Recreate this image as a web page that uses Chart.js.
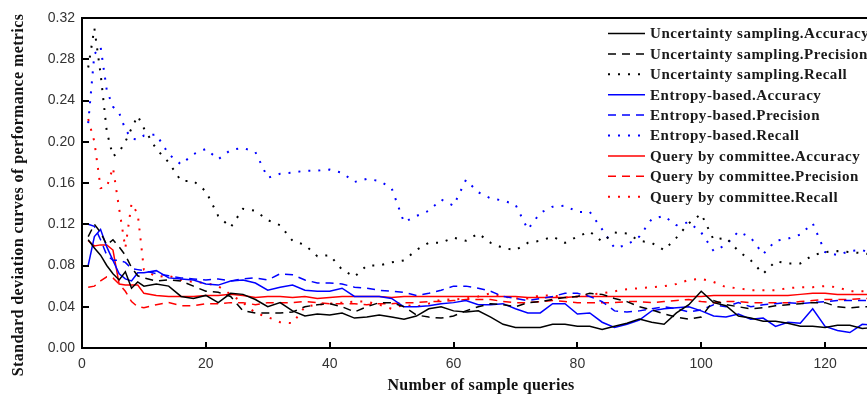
<!DOCTYPE html>
<html><head><meta charset="utf-8">
<script src="https://cdn.jsdelivr.net/npm/chart.js@4/dist/chart.umd.min.js"></script>
<style>
html,body{margin:0;padding:0;overflow:hidden;background:#fff;width:867px;height:396px}
#wrap{width:867px;height:396px;overflow:hidden;position:relative}
canvas{display:block}
</style></head>
<body><div id="wrap"><canvas id="c" width="900" height="396"></canvas></div>
<script>
const xValues = [1,2,3,4,5,6,7,8,9,10,
  12,14,16,18,20,22,24,26,28,30,
  32,34,36,38,40,42,44,46,48,50,
  52,54,56,58,60,62,64,66,68,70,
  72,74,76,78,80,82,84,86,88,90,
  92,94,96,98,100,102,104,106,108,110,
  112,114,116,118,120,122,124,126,128];

const usAccuracy = [0.105,0.097,0.090,0.080,0.072,0.066,0.074,0.058,0.064,0.060,
  0.062,0.060,0.050,0.048,0.051,0.044,0.053,0.052,0.047,0.040,
  0.044,0.036,0.031,0.033,0.032,0.034,0.029,0.030,0.032,0.030,
  0.028,0.031,0.038,0.040,0.036,0.035,0.036,0.030,0.023,0.020,
  0.020,0.020,0.023,0.023,0.021,0.021,0.018,0.021,0.024,0.028,
  0.025,0.023,0.034,0.042,0.055,0.044,0.041,0.031,0.029,0.026,
  0.026,0.024,0.021,0.021,0.020,0.022,0.022,0.019,0.020];
const usPrecision = [0.108,0.120,0.112,0.100,0.105,0.098,0.090,0.078,0.070,0.068,
  0.065,0.066,0.065,0.060,0.055,0.054,0.050,0.036,0.034,0.034,
  0.034,0.035,0.040,0.042,0.043,0.040,0.035,0.040,0.044,0.044,
  0.040,0.032,0.030,0.029,0.031,0.036,0.040,0.043,0.042,0.040,
  0.044,0.045,0.047,0.049,0.050,0.053,0.052,0.048,0.045,0.040,
  0.037,0.033,0.030,0.028,0.030,0.046,0.042,0.040,0.038,0.039,
  0.041,0.042,0.043,0.044,0.044,0.040,0.039,0.040,0.040];
const usRecall = [0.272,0.310,0.266,0.210,0.186,0.190,0.200,0.213,0.225,0.213,
  0.193,0.180,0.162,0.162,0.152,0.128,0.117,0.135,0.133,0.124,
  0.119,0.104,0.100,0.089,0.090,0.076,0.069,0.080,0.080,0.083,
  0.085,0.095,0.102,0.102,0.107,0.104,0.111,0.102,0.097,0.095,
  0.102,0.104,0.108,0.102,0.108,0.113,0.103,0.112,0.111,0.104,
  0.102,0.095,0.107,0.121,0.130,0.105,0.107,0.094,0.085,0.072,
  0.084,0.082,0.082,0.090,0.093,0.094,0.093,0.092,0.090];

const ebAccuracy = [0.080,0.108,0.115,0.098,0.085,0.072,0.067,0.065,0.073,0.073,
  0.075,0.068,0.067,0.066,0.062,0.061,0.065,0.066,0.063,0.056,
  0.059,0.061,0.056,0.055,0.055,0.058,0.050,0.050,0.050,0.048,
  0.040,0.040,0.041,0.043,0.044,0.046,0.042,0.042,0.043,0.038,
  0.034,0.034,0.043,0.043,0.033,0.034,0.025,0.020,0.023,0.027,
  0.036,0.038,0.039,0.040,0.036,0.031,0.030,0.033,0.028,0.029,
  0.021,0.025,0.024,0.038,0.021,0.017,0.015,0.023,0.022];
const ebPrecision = [0.120,0.118,0.105,0.090,0.085,0.085,0.083,0.077,0.076,0.075,
  0.072,0.070,0.068,0.067,0.066,0.067,0.065,0.067,0.068,0.066,
  0.072,0.071,0.066,0.063,0.063,0.062,0.059,0.058,0.056,0.055,
  0.054,0.051,0.053,0.056,0.060,0.060,0.058,0.055,0.050,0.048,
  0.046,0.048,0.050,0.053,0.053,0.050,0.045,0.036,0.035,0.036,
  0.038,0.040,0.038,0.035,0.037,0.042,0.040,0.044,0.040,0.042,
  0.043,0.044,0.043,0.044,0.045,0.046,0.046,0.046,0.046];
const ebRecall = [0.218,0.285,0.292,0.250,0.234,0.228,0.212,0.203,0.202,0.206,
  0.207,0.188,0.178,0.188,0.193,0.183,0.192,0.194,0.190,0.165,
  0.169,0.170,0.172,0.172,0.173,0.170,0.161,0.164,0.162,0.155,
  0.122,0.128,0.133,0.144,0.138,0.163,0.151,0.145,0.143,0.139,
  0.115,0.131,0.137,0.138,0.132,0.132,0.115,0.097,0.100,0.108,
  0.125,0.128,0.119,0.122,0.112,0.094,0.100,0.113,0.107,0.091,
  0.104,0.106,0.110,0.121,0.093,0.090,0.094,0.095,0.090];

const qbcAccuracy = [0.104,0.099,0.100,0.100,0.095,0.062,0.061,0.061,0.061,0.053,
  0.051,0.050,0.050,0.050,0.051,0.051,0.052,0.051,0.049,0.050,
  0.050,0.049,0.050,0.048,0.049,0.050,0.050,0.050,0.050,0.049,
  0.050,0.050,0.050,0.050,0.050,0.050,0.050,0.050,0.050,0.050,
  0.049,0.049,0.049,0.049,0.050,0.050,0.050,0.050,0.050,0.050,
  0.050,0.050,0.050,0.050,0.050,0.051,0.051,0.051,0.051,0.051,
  0.051,0.051,0.052,0.053,0.053,0.052,0.052,0.052,0.052];
const qbcPrecision = [0.059,0.060,0.065,0.069,0.068,0.062,0.055,0.045,0.040,0.039,
  0.042,0.044,0.041,0.041,0.043,0.043,0.044,0.044,0.042,0.044,
  0.044,0.044,0.045,0.044,0.043,0.043,0.043,0.042,0.043,0.043,
  0.044,0.044,0.045,0.045,0.046,0.047,0.047,0.047,0.045,0.044,
  0.044,0.045,0.046,0.045,0.044,0.044,0.044,0.044,0.045,0.045,
  0.044,0.045,0.046,0.047,0.045,0.044,0.045,0.045,0.044,0.044,
  0.044,0.044,0.045,0.046,0.047,0.047,0.047,0.048,0.048];
const qbcRecall = [0.222,0.200,0.155,0.156,0.175,0.135,0.097,0.140,0.130,0.076,
  0.069,0.070,0.066,0.064,0.063,0.060,0.052,0.044,0.034,0.030,
  0.025,0.024,0.040,0.042,0.043,0.044,0.045,0.045,0.042,0.038,
  0.042,0.040,0.043,0.047,0.047,0.048,0.050,0.053,0.050,0.048,
  0.048,0.051,0.051,0.049,0.050,0.052,0.053,0.055,0.057,0.058,
  0.059,0.060,0.062,0.066,0.067,0.064,0.059,0.058,0.056,0.056,
  0.056,0.058,0.059,0.059,0.060,0.059,0.055,0.055,0.055];

const yTicks = [0, 0.04, 0.08, 0.12, 0.16, 0.20, 0.24, 0.28, 0.32];
const xTicks = [0, 20, 40, 60, 80, 100, 120];

const seriesDefs = [
  ['Uncertainty sampling.Accuracy', usAccuracy, '#000000', 'solid'],
  ['Uncertainty sampling.Precision', usPrecision, '#000000', 'dash'],
  ['Uncertainty sampling.Recall', usRecall, '#000000', 'dot'],
  ['Entropy-based.Accuracy', ebAccuracy, '#0000ff', 'solid'],
  ['Entropy-based.Precision', ebPrecision, '#0000ff', 'dash'],
  ['Entropy-based.Recall', ebRecall, '#0000ff', 'dot'],
  ['Query by committee.Accuracy', qbcAccuracy, '#ff0000', 'solid'],
  ['Query by committee.Precision', qbcPrecision, '#ff0000', 'dash'],
  ['Query by committee.Recall', qbcRecall, '#ff0000', 'dot']
];
const dashFor = s => s === 'dash' ? [8, 6] : (s === 'dot' ? [2, 8] : []);
const widthFor = s => s === 'dot' ? 2 : 1.5;

const datasets = seriesDefs.map(([label, vals, color, style]) => ({
  label,
  data: xValues.map((x, i) => ({x, y: vals[i]})),
  borderColor: color,
  backgroundColor: color,
  borderWidth: widthFor(style),
  borderDash: dashFor(style),
  pointRadius: 0,
  tension: 0,
  fill: false
}));

const SERIF = '"Liberation Serif", "Times New Roman", serif';

const decor = {
  id: 'decor',
  afterDraw(chart) {
    const {ctx, chartArea: a, scales: {x, y}} = chart;
    ctx.save();
    ctx.strokeStyle = '#000';
    ctx.lineWidth = 2;
    ctx.beginPath();
    ctx.moveTo(a.left - 1, a.top);
    ctx.lineTo(a.right, a.top);
    ctx.stroke();
    yTicks.forEach(v => {
      const py = Math.round(y.getPixelForValue(v));
      ctx.beginPath(); ctx.moveTo(a.left, py); ctx.lineTo(a.left + 7, py); ctx.stroke();
    });
    xTicks.forEach(v => {
      const px = Math.round(x.getPixelForValue(v));
      ctx.beginPath(); ctx.moveTo(px, a.bottom); ctx.lineTo(px, a.bottom - 6); ctx.stroke();
    });
    ctx.fillStyle = '#111';
    ctx.textAlign = 'center';
    ctx.textBaseline = 'middle';
    ctx.font = 'bold 16px ' + SERIF;
    ctx.letterSpacing = '0.3px';
    ctx.fillText('Number of sample queries', 481, 386);
    ctx.save();
    ctx.translate(19, 195);
    ctx.rotate(-Math.PI / 2);
    ctx.font = 'bold 16px ' + SERIF;
    ctx.letterSpacing = '0.4px';
    ctx.fillText('Standard deviation curves of performance metrics', 0, 0);
    ctx.restore();
    chart.data.datasets.forEach((ds, i) => {
      const ly = 33.5 + i * 20.4;
      ctx.strokeStyle = ds.borderColor;
      ctx.lineWidth = ds.borderWidth;
      ctx.setLineDash(ds.borderDash);
      ctx.beginPath(); ctx.moveTo(608, ly); ctx.lineTo(645, ly); ctx.stroke();
      ctx.setLineDash([]);
      ctx.fillStyle = '#1a1a1a';
      ctx.font = 'bold 15px ' + SERIF;
      ctx.letterSpacing = '0.55px';
      ctx.textAlign = 'left';
      ctx.textBaseline = 'middle';
      ctx.fillText(ds.label, 650, ly + 1);
    });
    ctx.restore();
  }
};

new Chart(document.getElementById('c'), {
  type: 'line',
  data: {datasets},
  options: {
    responsive: false,
    animation: false,
    layout: {padding: {top: 18, right: 13, left: 0, bottom: 0}},
    plugins: {legend: {display: false}, tooltip: {enabled: false}},
    scales: {
      x: {
        type: 'linear', min: 0, max: 130,
        afterFit: s => { s.height = 48; },
        afterBuildTicks: s => { s.ticks = xTicks.map(v => ({value: v})); },
        grid: {display: true, drawOnChartArea: false, drawTicks: false},
        border: {display: true, color: '#000', width: 2},
        ticks: {padding: 8, color: '#333', font: {family: '"Liberation Sans", Arial, sans-serif', size: 14},
          maxRotation: 0, callback: v => String(v)}
      },
      y: {
        type: 'linear', min: 0, max: 0.32,
        afterFit: s => { s.width = 82; },
        afterBuildTicks: s => { s.ticks = yTicks.map(v => ({value: v})); },
        grid: {display: true, drawOnChartArea: false, drawTicks: false},
        border: {display: true, color: '#000', width: 2},
        ticks: {padding: 7, color: '#333', font: {family: '"Liberation Sans", Arial, sans-serif', size: 14},
          callback: v => Number(v).toFixed(2)}
      }
    }
  },
  plugins: [decor]
});
</script>
</body></html>
